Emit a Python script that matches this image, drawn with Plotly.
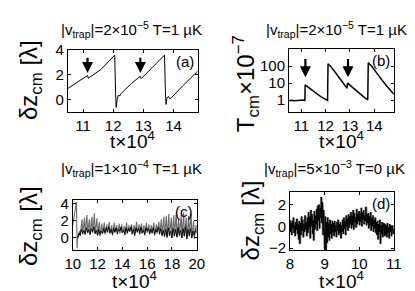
import numpy as np
import plotly.graph_objects as go

# ---------------- data ----------------
# (a) centre-of-mass displacement, |v|=2e-5, T=1 uK
a_t = [10.5, 11.15, 11.18, 11.22, 11.6, 12.05, 12.08, 12.1, 12.13, 12.17, 12.22, 12.25,
       12.6, 12.9, 12.93, 12.97, 13.3, 13.7, 13.73, 13.75, 13.78, 13.83, 13.88, 13.93,
       14.3, 14.8]
a_z = [0.9, 1.95, 1.72, 1.8, 2.45, 3.6, 0.5, -0.65, 0.0, 0.35, 0.3, 0.45,
       1.3, 1.88, 1.7, 1.8, 2.6, 3.6, 0.6, -0.4, 0.1, 0.25, 0.05, 0.15,
       1.1, 2.3]

# (b) centre-of-mass temperature (x1e-7)
b_t = [10.5, 10.6, 10.7, 10.8, 10.9, 11.0, 11.1, 11.15, 11.16, 11.2, 11.4, 11.6, 11.8, 12.0,
       12.08, 12.1, 12.2, 12.4, 12.6, 12.88, 12.9, 13.0, 13.2, 13.4, 13.6, 13.73,
       13.75, 13.9, 14.1, 14.3, 14.5, 14.8]
b_T = [0.9, 0.95, 0.9, 0.92, 1.0, 0.95, 1.0, 0.95, 8.0, 7.0, 4.2, 2.6, 1.6, 1.1,
       0.95, 140, 100, 42, 17, 5.0, 10, 7.5, 4.0, 2.3, 1.4, 1.05,
       160, 95, 42, 16, 7.0, 2.2]

# (c) |v|=1e-4, T=1 uK
c_t = [10.0, 10.3, 10.35, 10.4, 10.45, 10.55, 10.6, 10.75, 10.8, 10.95, 11.0, 11.15, 11.2,
       11.35, 11.4, 11.55, 11.6, 11.75, 11.8, 11.95, 12.0, 12.15, 12.2, 12.35, 12.4, 12.55,
       12.6, 12.75, 12.8, 12.95, 13.0, 13.15, 13.2, 13.35, 13.4, 13.55, 13.6, 13.75, 13.8,
       13.95, 14.0, 14.15, 14.2, 14.35, 14.4, 14.55, 14.6, 14.75, 14.8, 14.95, 15.0, 15.15,
       15.2, 15.35, 15.4, 15.55, 15.6, 15.75, 15.8, 15.95, 16.0, 16.15, 16.2, 16.35, 16.4,
       16.55, 16.6, 16.75, 16.8, 16.95, 17.0, 17.15, 17.2, 17.35, 17.4, 17.55, 17.6, 17.75,
       17.8, 17.95, 18.0, 18.15, 18.2, 18.35, 18.4, 18.55, 18.6, 18.75, 18.8, 18.95, 19.0,
       19.15, 19.2, 19.35, 19.4, 19.55, 19.6, 19.75, 19.8, 19.95, 20.0]
c_gray = [1.5, 4.2, -1.2, 0.3, 0.0, 0.8, 0.3, 2.2, 0.4, 2.4, 0.5, 2.7, 0.6,
          2.2, 0.4, 2.5, 0.6, 2.9, 0.5, 2.3, 0.3, 1.9, 0.2, 1.7, 0.5, 1.8,
          0.4, 1.6, 0.6, 1.9, 0.5, 1.5, 0.3, 1.8, 0.6, 1.5, 0.4, 1.7, 0.5,
          1.6, 0.6, 1.4, 0.3, 1.8, 0.5, 1.5, 0.7, 1.6, 0.4, 1.5, 0.3, 1.9,
          0.6, 1.6, 0.4, 1.7, 0.5, 1.5, 0.3, 1.8, 0.6, 1.6, 0.4, 1.5, 0.5,
          1.8, 0.3, 1.6, 0.5, 1.9, 0.4, 2.2, 0.2, 2.5, 0.1, 2.6, 0.0, 2.8,
          0.2, 2.4, 0.0, 2.7, 0.3, 2.9, 0.1, 2.3, 0.2, 2.7, 0.0, 3.0, 0.2,
          2.4, -0.1, 2.6, 0.3, 2.9, 0.0, 2.0, -0.1, 1.5, 1.0]
c_black = [0.0, 0.6, 0.3, 1.0, 0.5, 0.9, 0.4, 1.2, 0.6, 1.0,
           0.4, 1.1, 0.7, 1.3, 0.5, 0.9, 0.3, 1.0, 0.4, 0.8,
           0.5, 1.1, 0.6, 1.2, 0.7, 1.3, 0.6, 1.0, 0.4, 1.1,
           0.7, 1.2, 0.5, 1.0, 0.8, 1.3, 0.6, 0.9, 0.4, 1.2,
           0.6, 1.1, 0.8, 1.3, 0.5, 1.0, 0.3, 1.2, 0.7, 1.1,
           0.5, 1.3, 0.6, 0.9, 0.4, 1.2, 0.8, 1.1, 0.5, 1.0,
           0.6, 1.2, 0.4, 1.0, 0.7, 1.3, 0.5, 1.1, 0.3, 0.9,
           0.2, 1.0, 0.1, 1.2, 0.3, 0.8, 0.0, 1.1, 0.2, 1.0,
           0.1, 1.2, 0.3, 0.9, 0.0, 1.1, 0.2, 1.3, -0.1, 1.0,
           0.2, 1.1, 0.0, 0.8, 0.3, 1.0, 0.6]
c_black_t = np.linspace(10.4, 20.0, len(c_black))

# (d) |v|=5e-3, T=0 uK
d_z = [0.6, -0.5, 0.3, -0.8, 0.5, -0.2, 0.8, -0.6, 0.1, -0.9, 0.4, -0.3, 0.7, -0.7, 0.2,
       -1.2, 0.5, -1.6, 0.3, -0.8, 0.9, -0.4, 0.6, -1.0, 0.2, -0.5, 1.0, -0.3, 0.4, -0.9,
       0.8, -0.6, 1.3, -0.2, 0.9, -1.1, 1.5, 0.0, 1.1, -0.7, 0.6, -1.3, 1.4, -0.3, 1.0,
       0.2, 1.6, -0.4, 1.9, 0.5, 2.0, -0.2, 1.7, 0.8, 2.7, 0.3, 2.2, -0.8, 1.5, -1.6,
       -2.0, 0.9, -2.3, 0.4, -1.5, 0.8, -1.0, 0.3, -1.3, 0.6, -0.7, 0.2, -1.1, 0.5, -0.6,
       0.3, -0.9, 0.5, -0.5, 0.1, -1.0, 0.4, -0.4, 0.6, -0.8, 0.2, -0.6, 0.4, -1.1, 0.1,
       -0.5, 0.6, -0.7, 0.8, -0.2, 0.5, -0.8, 1.0, 0.0, 0.7, -0.4, 1.1, -0.1, 0.9, 0.2,
       1.3, -0.2, 1.0, 0.1, 1.5, -0.3, 1.2, 0.4, 0.8, -0.1, 1.6, 0.2, 1.1, 0.5, 1.4,
       0.1, 1.2, 0.4, 1.7, 0.0, 1.3, 0.6, 1.5, 0.2, 1.0, 0.5, 1.8, 0.1, 1.1, 0.3,
       1.2, -0.2, 0.9, 0.1, 1.3, -0.4, 0.7, 0.0, 1.0, -0.5, 0.6, -0.2, 0.8, -0.6, 0.4,
       -0.8, 0.5, -1.2, 0.2, -0.5, 0.6, -1.6, 0.1, -0.7, 0.4, -1.0, -0.1, 0.3, -0.9, 0.2,
       -0.8, 0.1, -1.0, 0.3, -0.6, -0.1, -1.1, 0.2, -0.5, 0.0, -0.9, 0.1, -0.4, -0.7, -0.2]
d_t = np.linspace(8.0, 11.0, len(d_z))

arrow_t_a = [11.15, 12.9]
arrow_t_b = [11.17, 12.92]

titles = ["|v<sub>trap</sub>|=2×10<sup>−5</sup> T=1 µK",
          "|v<sub>trap</sub>|=2×10<sup>−5</sup> T=1 µK",
          "|v<sub>trap</sub>|=1×10<sup>−4</sup> T=1 µK",
          "|v<sub>trap</sub>|=5×10<sup>−3</sup> T=0 µK"]
panel_tags = ["(a)", "(b)", "(c)", "(d)"]

# ---------------- figure ----------------
W, H = 415, 291
def px_x(p): return p / W
def px_y(p): return 1 - p / H

FONT = "Liberation Sans, Arial, sans-serif"

fig = go.Figure()
fig.add_trace(go.Scatter(x=a_t, y=a_z, mode="lines", line=dict(color="black", width=1),
                         xaxis="x", yaxis="y"))
fig.add_trace(go.Scatter(x=b_t, y=b_T, mode="lines", line=dict(color="black", width=1.5),
                         xaxis="x2", yaxis="y2"))
fig.add_trace(go.Scatter(x=c_t, y=c_gray, mode="lines", line=dict(color="#6a6a6a", width=1.1),
                         xaxis="x3", yaxis="y3"))
fig.add_trace(go.Scatter(x=c_black_t, y=c_black, mode="lines", line=dict(color="black", width=0.9),
                         xaxis="x3", yaxis="y3"))
fig.add_trace(go.Scatter(x=d_t, y=d_z, mode="lines", line=dict(color="#8c8c8c", width=2.6),
                         xaxis="x4", yaxis="y4"))
fig.add_trace(go.Scatter(x=d_t, y=d_z, mode="lines", line=dict(color="black", width=1.0),
                         xaxis="x4", yaxis="y4"))

boxes = {
    1: dict(x=(54, 189), y=(35, 100)),
    2: dict(x=(284, 393), y=(34, 100)),
    3: dict(x=(59, 188), y=(193, 246)),
    4: dict(x=(285, 393), y=(184, 246)),
}
axstyle = dict(showline=True, linecolor="black", linewidth=1, mirror="allticks",
               ticks="inside", ticklen=3, tickcolor="black", showgrid=False, zeroline=False,
               tickfont=dict(family=FONT, size=15, color="black"))

xr = {1: [10.5, 14.8], 2: [10.5, 14.8], 3: [10, 20], 4: [8, 11]}
xt = {1: [11, 12, 13, 14], 2: [11, 12, 13, 14], 3: [10, 12, 14, 16, 18, 20], 4: [8, 9, 10, 11]}
yr = {1: [-1, 4], 2: [-0.7, 3], 3: [-1.45, 4.45], 4: [-2.2, 3.2]}
yt = {1: [0, 2, 4], 2: [1, 10, 100], 3: [0, 2, 4], 4: [-2, 0, 2]}

layout = dict(width=W, height=H, margin=dict(l=0, r=0, t=0, b=0),
              paper_bgcolor="white", plot_bgcolor="white", showlegend=False)
for i in range(1, 5):
    sfx = "" if i == 1 else str(i)
    b = boxes[i]
    layout["xaxis" + sfx] = dict(domain=[px_x(b["x"][0]), px_x(b["x"][1])],
                                 anchor="y" + sfx, range=xr[i], tickvals=xt[i], **axstyle)
    yd = dict(domain=[px_y(b["y"][1]), px_y(b["y"][0])], anchor="x" + sfx,
              range=yr[i], tickvals=yt[i], **axstyle)
    if i == 2:
        yd["type"] = "log"
        yd["ticktext"] = ["1", "10", "100"]
    layout["yaxis" + sfx] = yd
fig.update_layout(**layout)

ann = []
# titles
title_pos = {1: (120, 13), 2: (333, 13), 3: (120, 160), 4: (331, 160)}
for i, tt in enumerate(titles, start=1):
    cx, ty = title_pos[i]
    ann.append(dict(text=tt, x=px_x(cx), y=px_y(ty), xref="paper", yref="paper",
                    showarrow=False, xanchor="center", yanchor="middle",
                    font=dict(family=FONT, size=15, color="black")))
# x labels
for i in range(1, 5):
    b = boxes[i]
    cx = (b["x"][0] + b["x"][1]) / 2
    ly = 130 if i <= 2 else 277
    ann.append(dict(text="t×10<sup>4</sup>", x=px_x(cx), y=px_y(ly), xref="paper", yref="paper",
                    showarrow=False, xanchor="center", yanchor="middle",
                    font=dict(family=FONT, size=19, color="black")))
# y labels
ylabs = {1: ("δz<sub>cm</sub> [λ]", 15, 66), 2: ("T<sub>cm</sub>×10<sup>−7</sup>", 240, 70),
         3: ("δz<sub>cm</sub> [λ]", 15, 220), 4: ("δz<sub>cm</sub> [λ]", 246, 215)}
for i, (txt, lx, lyy) in ylabs.items():
    ann.append(dict(text=txt, x=px_x(lx), y=px_y(lyy), xref="paper", yref="paper",
                    showarrow=False, textangle=-90, xanchor="center", yanchor="middle",
                    font=dict(family=FONT, size=24, color="black")))
# panel tags
for i, tag in enumerate(panel_tags, start=1):
    sfx = "" if i == 1 else str(i)
    ann.append(dict(text=tag, x=0.985, y=0.98, xref="x" + sfx + " domain",
                    yref="y" + sfx + " domain", showarrow=False, xanchor="right",
                    yanchor="top", font=dict(family=FONT, size=15, color="black")))
# arrows
for t in arrow_t_a:
    ann.append(dict(text="", x=t, y=2.15, ax=t, ay=3.5, xref="x", yref="y", axref="x", ayref="y",
                    showarrow=True, arrowhead=2, arrowsize=1, arrowwidth=2.2, arrowcolor="black"))
for t in arrow_t_b:
    ann.append(dict(text="", x=t, y=np.log10(22), ax=t, ay=np.log10(330), xref="x2", yref="y2",
                    axref="x2", ayref="y2", showarrow=True, arrowhead=2, arrowsize=1,
                    arrowwidth=2.2, arrowcolor="black"))
fig.update_layout(annotations=ann)

fig.write_html("out.html")
